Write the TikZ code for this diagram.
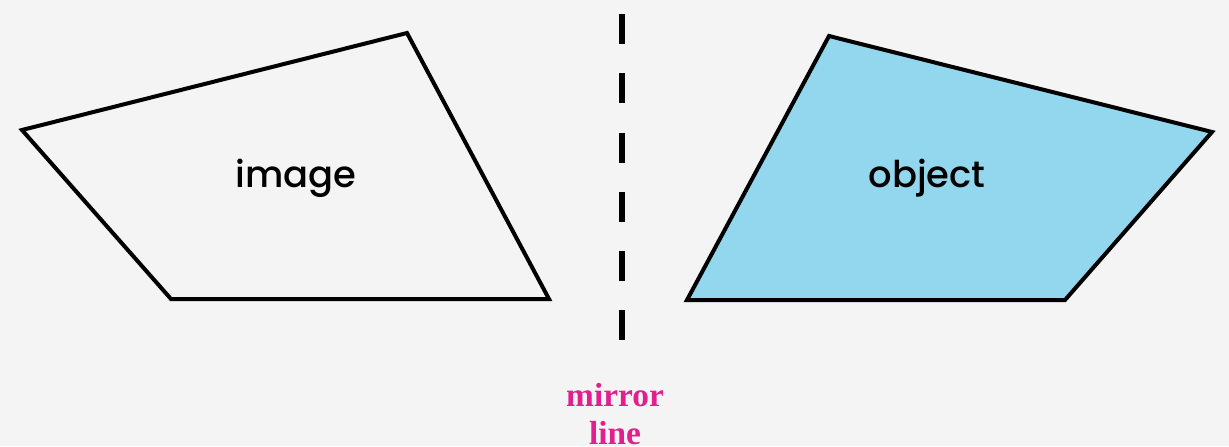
\documentclass[tikz,border=0pt]{standalone}
\usepackage{fontspec}
\setmainfont{Liberation Serif}
\newfontfamily\geofont{Poppins Medium}
\usetikzlibrary{positioning}
\definecolor{paper}{HTML}{F4F4F4}
\definecolor{objblue}{HTML}{93D7EE}
\definecolor{mirrorpink}{HTML}{E0208C}

\begin{document}
\begin{tikzpicture}[x=0.02cm, y=-0.02cm,
  shapeline/.style={line width=0.08cm, line join=miter, draw=black},
  lbl/.style={font=\geofont\fontsize{21}{25}\selectfont, text=black},
  mirror/.style={line width=0.12cm, dash pattern={on 0.6cm off 0.586cm}}
]
  \fill[paper] (0,0) rectangle (1229,446);
  \useasboundingbox (0,0) rectangle (1229,446);
  % image (reflected shape)
  \draw[shapeline] (22,130) -- (407,33) -- (549,299) -- (171,299) -- cycle;
  % object
  \draw[shapeline, fill=objblue] (829,36) -- (1212,132) -- (1065,300) -- (687,300) -- cycle;
  \node[lbl] (image) at (296,178) {image};
  \node[lbl] (object) at (927,178) {object};
  % mirror line
  \coordinate (mtop) at (622,14);
  \coordinate (mbot) at (622,340);
  \draw[mirror] (mtop) -- (mbot);
  \node[font=\bfseries\fontsize{19}{22}\selectfont, text=mirrorpink, align=center] (mlabel) at (615,414) {mirror\\line};
\end{tikzpicture}
\end{document}
